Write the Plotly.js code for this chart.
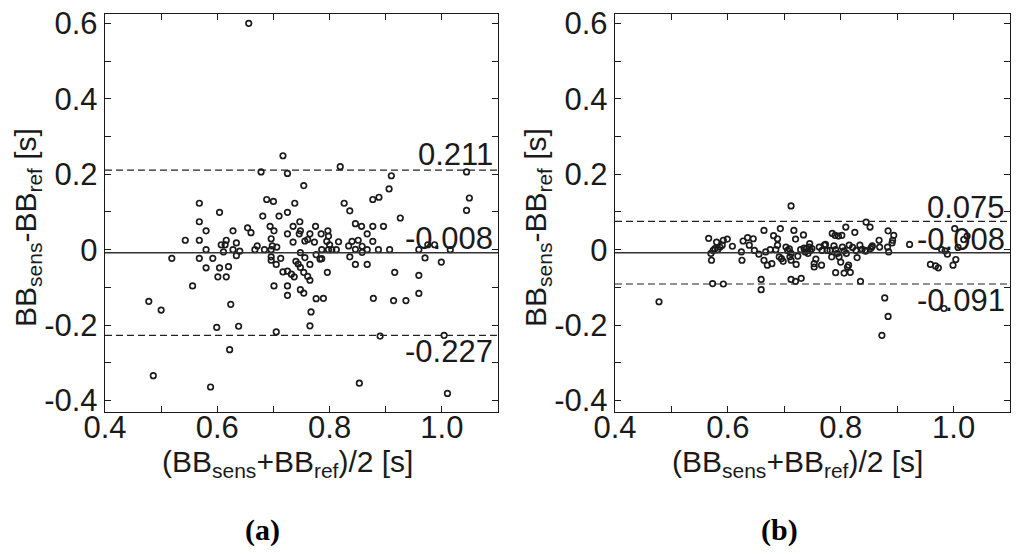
<!DOCTYPE html>
<html>
<head>
<meta charset="utf-8">
<script src="https://cdn.plot.ly/plotly-3.0.1.min.js"></script>
<style>html,body{margin:0;padding:0;background:#fff}#chart{width:1024px;height:554px}</style>
</head>
<body>
<div id="chart"></div>
<script>
'use strict';

// (a) mean of the two readings vs difference
const xA = [0.656,0.717,0.678,0.725,0.819,0.910,0.754,0.906,0.888,0.877,1.044,1.049,1.044,0.568,0.604,0.688,0.700,0.738,0.826,0.836,
  0.681,0.710,0.725,0.926,0.568,0.580,0.543,0.568,0.580,0.519,0.568,0.592,0.580,0.604,0.620,0.601,0.616,0.556,0.624,0.478,
  0.500,0.599,0.638,0.622,0.486,0.588,0.705,0.765,0.767,0.776,0.789,0.725,0.754,0.701,0.725,0.748,0.717,0.725,0.732,0.737,
  0.754,0.761,0.765,0.796,0.748,0.765,0.740,0.744,0.705,0.696,0.713,0.756,0.748,0.783,0.786,0.776,0.696,0.696,0.684,0.667,
  0.671,0.698,0.706,0.696,0.694,0.701,0.654,0.660,0.628,0.607,0.616,0.614,0.634,0.628,0.611,0.640,0.634,0.725,0.735,0.747,
  0.748,0.746,0.735,0.756,0.761,0.765,0.775,0.773,0.785,0.797,0.798,0.795,0.786,0.798,0.804,0.812,0.816,0.800,0.846,0.857,
  0.867,0.877,0.896,0.877,0.840,0.851,0.834,0.846,0.858,0.867,0.858,0.887,0.907,0.836,0.846,0.867,0.916,0.878,0.914,0.936,
  0.959,0.959,0.970,0.959,0.975,0.987,0.999,1.015,0.890,1.004,0.853,1.010];
const yA = [0.600,0.249,0.206,0.202,0.220,0.196,0.170,0.161,0.139,0.133,0.206,0.137,0.104,0.123,0.099,0.133,0.128,0.123,0.123,0.103,
  0.089,0.089,0.099,0.084,0.074,0.050,0.025,0.025,0.000,-0.023,-0.023,-0.023,-0.048,-0.048,-0.045,-0.072,-0.072,-0.096,-0.145,-0.137,
  -0.160,-0.206,-0.203,-0.265,-0.334,-0.364,-0.218,-0.202,-0.165,-0.130,-0.129,-0.121,-0.115,-0.096,-0.096,-0.106,-0.059,-0.057,-0.065,-0.072,
  -0.060,-0.071,-0.081,-0.060,-0.047,-0.039,-0.031,-0.038,-0.039,-0.028,-0.023,-0.021,-0.008,-0.025,-0.024,-0.013,-0.019,0.000,0.000,0.000,
  0.010,0.010,0.007,0.029,0.062,0.050,0.058,0.045,0.050,0.013,0.025,0.013,0.018,0.000,-0.006,-0.004,-0.016,0.042,0.062,0.074,
  0.050,0.042,0.020,0.023,0.027,0.042,0.062,0.020,0.042,0.050,0.036,0.022,0.000,0.000,0.000,0.000,0.021,0.013,0.069,0.062,
  0.042,0.062,0.062,0.022,0.022,0.025,0.010,0.001,0.009,0.000,-0.007,0.000,0.000,-0.019,-0.039,-0.039,-0.060,-0.129,-0.135,-0.135,
  -0.116,-0.068,-0.022,0.000,0.013,0.013,-0.033,0.000,-0.229,-0.227,-0.354,-0.381];
const statsA = {upper: 0.211, mean: -0.008, lower: -0.227};

// (b)
const xB = [0.478,0.566,0.570,0.571,0.573,0.592,0.574,0.577,0.582,0.580,0.586,0.590,0.592,0.599,0.608,0.624,0.625,0.627,0.635,0.638,
  0.645,0.647,0.655,0.659,0.659,0.664,0.664,0.670,0.678,0.667,0.675,0.681,0.688,0.685,0.688,0.693,0.691,0.695,0.698,0.703,
  0.706,0.709,0.712,0.710,0.712,0.712,0.712,0.720,0.730,0.717,0.720,0.721,0.724,0.734,0.729,0.735,0.737,0.739,0.744,0.742,
  0.746,0.749,0.745,0.753,0.753,0.756,0.762,0.767,0.771,0.773,0.776,0.766,0.781,0.784,0.788,0.791,0.794,0.785,0.790,0.796,
  0.802,0.791,0.800,0.803,0.806,0.810,0.806,0.812,0.817,0.814,0.809,0.815,0.821,0.825,0.827,0.829,0.834,0.838,0.843,0.835,
  0.845,0.852,0.855,0.868,0.869,0.873,0.878,0.884,0.884,0.892,0.894,0.885,0.883,0.922,0.959,0.968,0.973,0.979,0.985,0.989,
  0.983,0.999,1.004,1.002,1.008,1.018,1.024,0.891,0.797,0.844,0.853,0.856];
const yB = [-0.138,0.030,-0.010,-0.028,-0.090,-0.091,-0.002,0.003,0.000,0.020,0.007,0.012,0.025,0.028,0.009,-0.006,-0.028,0.023,0.032,0.012,
  0.029,-0.002,-0.012,-0.079,-0.106,0.051,-0.028,-0.041,-0.037,-0.006,0.000,0.037,0.029,0.000,0.012,0.056,-0.019,-0.024,-0.031,0.007,
  -0.002,0.002,-0.010,-0.019,0.116,-0.028,-0.079,-0.084,-0.076,0.051,0.028,-0.039,-0.017,0.039,0.000,0.004,-0.006,0.002,0.007,-0.010,
  -0.002,0.003,0.016,-0.037,-0.046,-0.025,0.007,-0.002,0.012,0.014,-0.002,-0.041,-0.002,-0.019,0.010,0.000,-0.010,0.043,0.038,0.036,
  0.038,-0.061,-0.033,0.007,-0.003,-0.010,-0.062,-0.046,-0.060,-0.041,0.060,0.012,0.006,0.046,-0.002,-0.021,0.012,0.001,-0.002,-0.084,
  0.073,0.060,0.007,0.025,0.007,-0.227,-0.128,-0.177,0.050,0.025,0.038,-0.006,0.007,0.014,-0.039,-0.043,-0.048,0.000,-0.003,-0.012,
  -0.156,-0.041,-0.026,0.056,0.006,0.027,0.036,0.018,-0.019,-0.004,0.003,0.010];
const statsB = {upper: 0.075, mean: -0.008, lower: -0.091};

const xTickVals = [0.4,0.5,0.6,0.7,0.8,0.9,1.0,1.1];
const xTickText = ['0.4','','0.6','','0.8','','1.0',''];
const yTickVals = [-0.4,-0.3,-0.2,-0.1,0,0.1,0.2,0.3,0.4,0.5,0.6];
const yTickText = ['-0.4','','-0.2','','0','','0.2','','0.4','','0.6'];

const FONT = 'Liberation Sans, Arial, Helvetica, sans-serif';
const INK = '#1a1a1a';

// label y positions (data units) sit a bit off their line, as in the figure
const labelPos = {
  A: [{v: statsA.upper, y: 0.251}, {v: statsA.mean, y: 0.030}, {v: statsA.lower, y: -0.271}],
  B: [{v: statsB.upper, y: 0.113}, {v: statsB.mean, y: 0.028}, {v: statsB.lower, y: -0.134}]
};

function axX(dom) {
  return { domain: dom, range: [0.4, 1.1], tickvals: xTickVals, ticktext: xTickText, ticks: 'inside', ticklen: 6,
    tickcolor: INK, mirror: 'ticks', showline: true, linecolor: INK, linewidth: 1.2, showgrid: false, zeroline: false,
    ticklabelstandoff: -12, tickfont: { family: FONT, size: 31, color: INK } };
}
function axY(anchor) {
  return { domain: [1 - 412/554, 1 - 14/554], range: [-0.4303, 0.6247], tickvals: yTickVals, ticktext: yTickText,
    ticks: 'inside', ticklen: 6, tickcolor: INK, mirror: 'ticks', showline: true, linecolor: INK, linewidth: 1.2,
    showgrid: false, zeroline: false, anchor, tickfont: { family: FONT, size: 31, color: INK } };
}

const marker = { symbol: 'circle-open', size: 5.5, color: INK, line: { width: 1.7, color: INK } };
const traces = [
  { x: xA, y: yA, xaxis: 'x', yaxis: 'y', type: 'scatter', mode: 'markers', marker, hoverinfo: 'x+y' },
  { x: xB, y: yB, xaxis: 'x2', yaxis: 'y2', type: 'scatter', mode: 'markers', marker, hoverinfo: 'x+y' }
];

const shapes = [];
[['x', 'y', statsA], ['x2', 'y2', statsB]].forEach(([xr, yr, s]) => {
  shapes.push({ type: 'line', xref: xr + ' domain', yref: yr, x0: 0, x1: 1, y0: s.mean, y1: s.mean, line: { color: '#333', width: 1.6 } });
  [s.upper, s.lower].forEach(v => shapes.push({ type: 'line', xref: xr + ' domain', yref: yr, x0: 0, x1: 1, y0: v, y1: v,
    line: { color: '#222', width: 1.2, dash: '7px,4px' } }));
});

const annotations = [];
[['x', 'y', labelPos.A], ['x2', 'y2', labelPos.B]].forEach(([xr, yr, list]) => {
  list.forEach(p => annotations.push({ xref: xr, yref: yr, x: 1.094, y: p.y, xanchor: 'right', yanchor: 'middle',
    text: p.v.toFixed(3), showarrow: false, font: { family: FONT, size: 31, color: INK } }));
});

const xTitle = '(BB<sub>sens</sub>+BB<sub>ref</sub>)/2 [s]';
const yTitle = 'BB<sub>sens</sub>-BB<sub>ref</sub> [s]';
const tFont = { family: FONT, size: 30, color: INK };
annotations.push(
  { xref: 'paper', yref: 'paper', x: 287/1024, y: 1 - 463/554, text: xTitle, showarrow: false, font: tFont, xanchor: 'center', yanchor: 'middle' },
  { xref: 'paper', yref: 'paper', x: 797/1024, y: 1 - 463/554, text: xTitle, showarrow: false, font: tFont, xanchor: 'center', yanchor: 'middle' },
  { xref: 'paper', yref: 'paper', x: 27/1024, y: 1 - 228/554, text: yTitle, textangle: -90, showarrow: false, font: tFont, xanchor: 'center', yanchor: 'middle' },
  { xref: 'paper', yref: 'paper', x: 537/1024, y: 1 - 228/554, text: yTitle, textangle: -90, showarrow: false, font: tFont, xanchor: 'center', yanchor: 'middle' },
  { xref: 'paper', yref: 'paper', x: 262/1024, y: 1 - 530/554, text: '<b>(a)</b>', showarrow: false, xanchor: 'center', yanchor: 'middle',
    font: { family: 'Liberation Serif, Times New Roman, serif', size: 30, color: '#000' } },
  { xref: 'paper', yref: 'paper', x: 779/1024, y: 1 - 530/554, text: '<b>(b)</b>', showarrow: false, xanchor: 'center', yanchor: 'middle',
    font: { family: 'Liberation Serif, Times New Roman, serif', size: 30, color: '#000' } }
);

const layout = {
  width: 1024, height: 554, margin: { l: 0, r: 0, t: 0, b: 0 }, showlegend: false,
  paper_bgcolor: '#fff', plot_bgcolor: '#fff',
  xaxis: axX([105/1024, 498/1024]), yaxis: axY('x'),
  xaxis2: axX([615/1024, 1010/1024]), yaxis2: axY('x2'),
  shapes, annotations
};

Plotly.newPlot('chart', traces, layout, { displayModeBar: false, staticPlot: true });
</script>
</body>
</html>
